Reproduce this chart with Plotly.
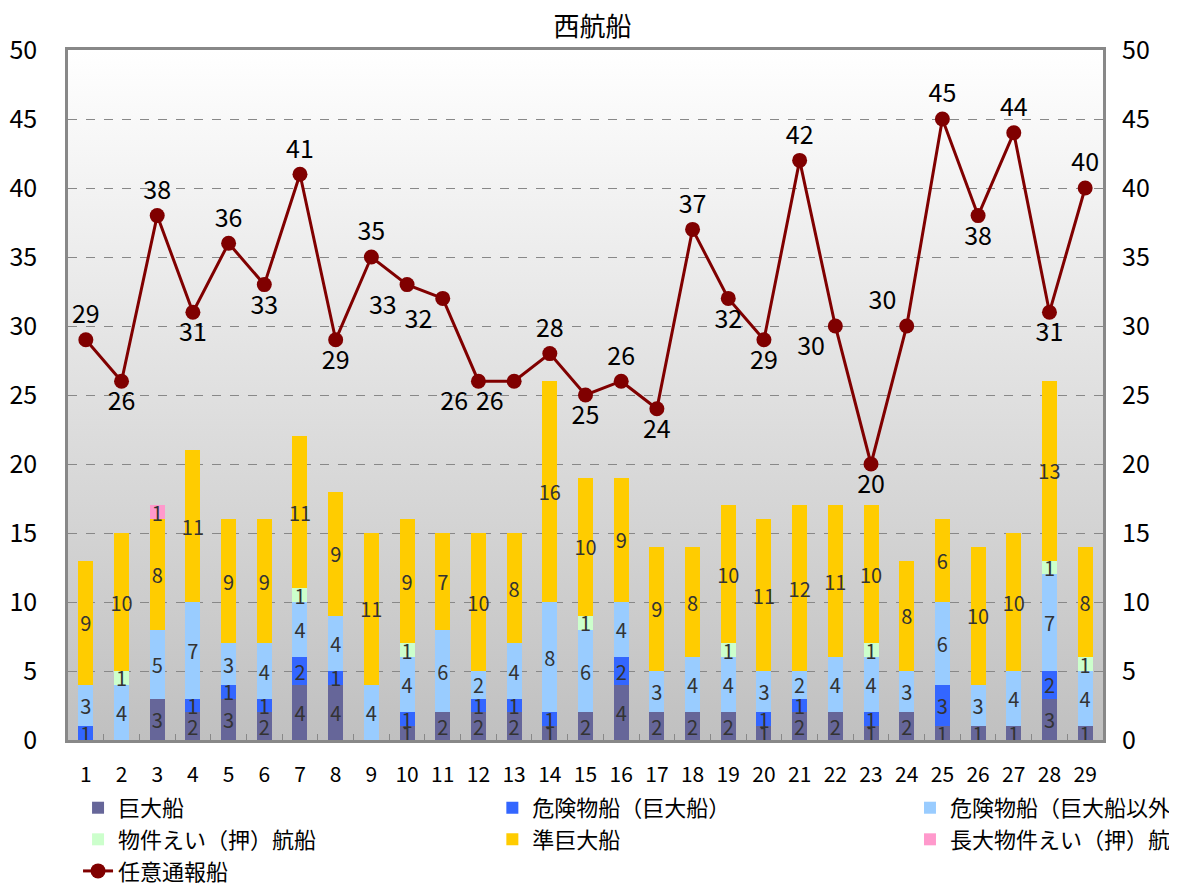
import base64
import plotly.graph_objects as go

days = [str(i) for i in range(1, 30)]
kyodai      = [0,0,3,2,3,2,4,4,0,1,2,2,2,1,2,4,2,2,2,1,2,2,1,2,1,1,1,3,1]
kiken_k     = [1,0,0,1,1,1,2,1,0,1,0,1,1,1,0,2,0,0,0,1,1,0,1,0,3,0,0,2,0]
kiken_other = [3,4,5,7,3,4,4,4,4,4,6,2,4,8,6,4,3,4,4,3,2,4,4,3,6,3,4,7,4]
bukken      = [0,1,0,0,0,0,1,0,0,1,0,0,0,0,1,0,0,0,1,0,0,0,1,0,0,0,0,1,1]
jun_kyodai  = [9,10,8,11,9,9,11,9,11,9,7,10,8,16,10,9,9,8,10,11,12,11,10,8,6,10,10,13,8]
chodai      = [0,0,1,0,0,0,0,0,0,0,0,0,0,0,0,0,0,0,0,0,0,0,0,0,0,0,0,0,0]
nini        = [29,26,38,31,36,33,41,29,35,33,32,26,26,28,25,26,24,37,32,29,42,30,20,30,45,38,44,31,40]
label_pos   = ["top center","bottom center","top center","bottom center","top center",
               "bottom center","top center","bottom center","top center","bottom left",
               "bottom left","bottom left","bottom left","top center","bottom center",
               "top center","bottom center","top center","bottom center","bottom center",
               "top center","bottom left","bottom center","top left","top center",
               "bottom center","top center","bottom center","top center"]

# (name, values, colour, legend id)
series = [
    ("巨大船", kyodai, "#666699", "legend"),
    ("危険物船（巨大船）", kiken_k, "#3366FF", "legend2"),
    ("危険物船（巨大船以外）", kiken_other, "#99CCFF", "legend3"),
    ("物件えい（押）航船", bukken, "#CCFFCC", "legend"),
    ("準巨大船", jun_kyodai, "#FFCC00", "legend2"),
    ("長大物件えい（押）航船", chodai, "#FF99CC", "legend3"),
]

NARROW = "Liberation Sans Narrow, Noto Sans CJK JP, sans-serif"
CJK = "Noto Sans CJK JP, sans-serif"

fig = go.Figure()
for name, vals, col, lg in series:
    fig.add_trace(go.Bar(
        x=days, y=vals, name=name, legend=lg, legendgroup=name,
        marker=dict(color=col, line=dict(width=0)),
        text=[str(v) if v else "" for v in vals],
        textposition="inside", insidetextanchor="middle", textangle=0,
        constraintext="none",
        textfont=dict(family=NARROW, size=20, color="#333333"),
        hoverinfo="skip",
    ))

fig.add_trace(go.Scatter(
    x=days, y=nini, name="任意通報船", yaxis="y2", legend="legend",
    legendgroup="任意通報船",
    mode="lines+markers+text",
    line=dict(color="#800000", width=3),
    marker=dict(color="#800000", size=15),
    text=[str(v) for v in nini], textposition=label_pos,
    textfont=dict(family=NARROW, size=25, color="#000000"),
    cliponaxis=False,
))

svg = ('<svg xmlns="http://www.w3.org/2000/svg" width="10" height="100" '
       'preserveAspectRatio="none" viewBox="0 0 10 100"><defs>'
       '<linearGradient id="g" x1="0" y1="0" x2="0" y2="1">'
       '<stop offset="0" stop-color="#ffffff"/><stop offset="1" stop-color="#c0c0c0"/>'
       '</linearGradient></defs><rect x="0" y="0" width="10" height="100" fill="url(#g)"/></svg>')
src = "data:image/svg+xml;base64," + base64.b64encode(svg.encode()).decode()

leg_common = dict(orientation="v", yanchor="top", y=-0.068, xanchor="left",
                  traceorder="normal", tracegroupgap=6,
                  font=dict(family=CJK, size=22, color="#000"),
                  bgcolor="rgba(0,0,0,0)", itemwidth=30)

fig.update_layout(
    width=1169, height=881,
    barmode="stack", bargap=0.58,
    paper_bgcolor="white", plot_bgcolor="#e0e0e0",
    margin=dict(l=60, r=74, t=42, b=149, autoexpand=False),
    images=[dict(source=src, xref="x domain", yref="y domain", x=0, y=1,
                 sizex=1, sizey=1, xanchor="left", yanchor="top",
                 sizing="stretch", layer="below")],
    title=dict(text="西航船", x=0.5, xanchor="center", y=1 - 19 / 881,
               yanchor="middle", yref="container",
               font=dict(family=CJK, size=26, color="#000")),
    showlegend=True,
    legend=dict(x=0.0097, **leg_common),
    legend2=dict(x=0.41, **leg_common),
    legend3=dict(x=0.8135, **leg_common),
    xaxis=dict(type="category", range=[-0.5, 28.5], showline=True,
               linecolor="#888888", linewidth=2.5,
               mirror=True, ticks="inside", tickson="boundaries", ticklen=6,
               tickcolor="#888888", tickangle=0, automargin=False,
               tickfont=dict(family=NARROW, size=21, color="#000"),
               ticklabelstandoff=14, showgrid=False),
    yaxis=dict(range=[0, 50], dtick=5, showline=True, linecolor="#888888",
               linewidth=2.5, mirror=True, showgrid=True, gridcolor="#888888",
               griddash="dash", gridwidth=1, ticks="", automargin=False,
               tickfont=dict(family=NARROW, size=25, color="#000"),
               ticklabelstandoff=23, zeroline=False),
    yaxis2=dict(range=[0, 50], dtick=5, overlaying="y", side="right",
                showgrid=False, zeroline=False, showline=False, automargin=False,
                tickfont=dict(family=NARROW, size=25, color="#000"),
                ticklabelstandoff=18),
)

fig.write_html("out.html")
